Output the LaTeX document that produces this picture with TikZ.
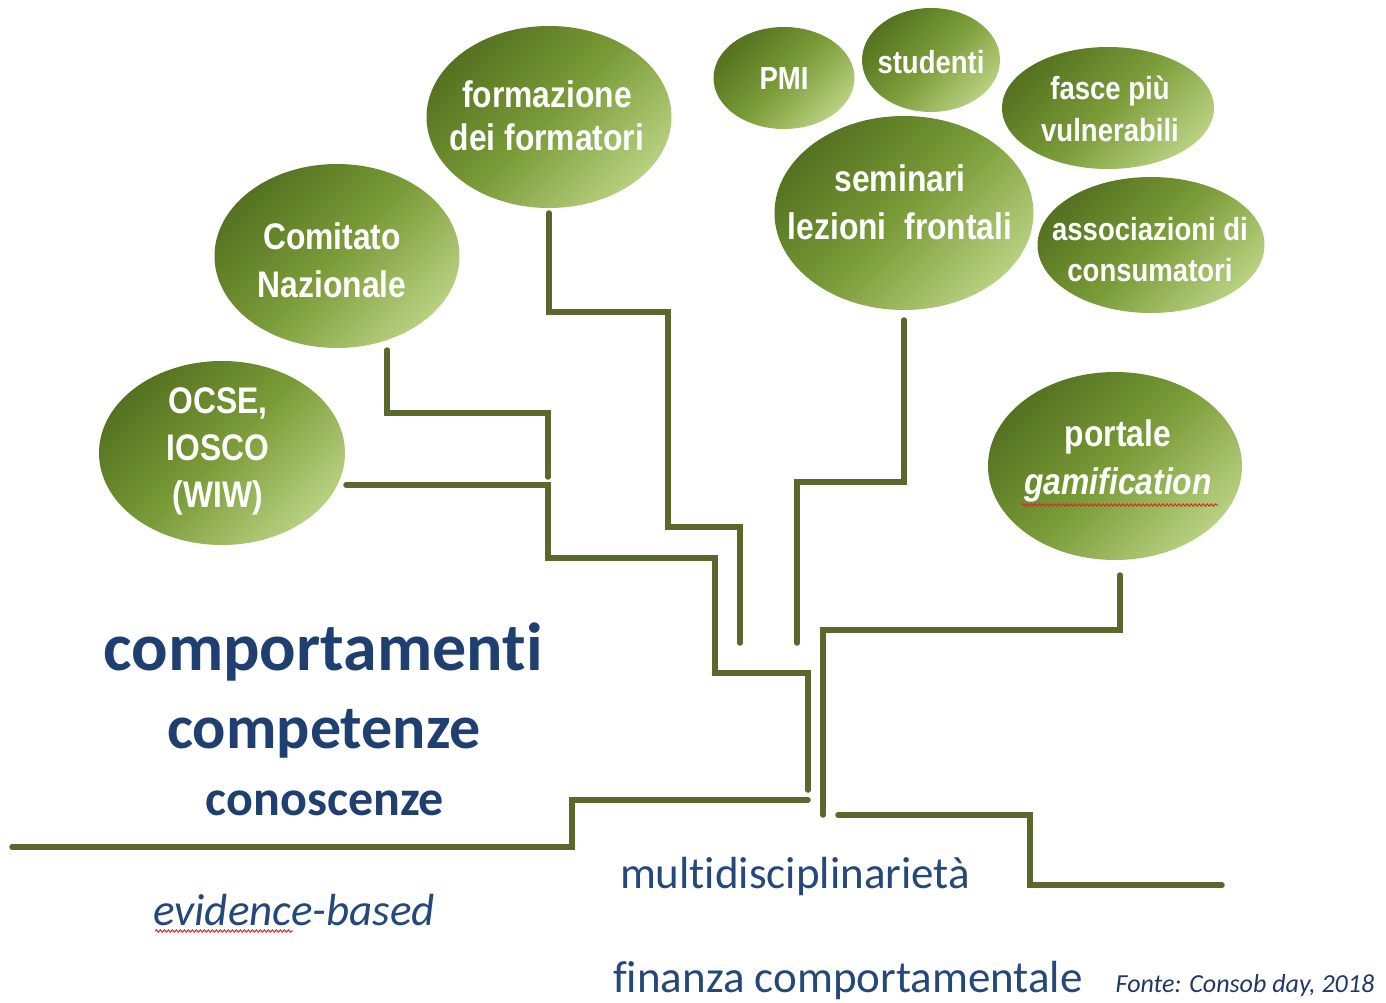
\documentclass[tikz,border=0pt]{standalone}
\usepackage{fontspec}
\setmainfont{Carlito}[Ligatures=NoCommon]
\newfontfamily\bubblefont[FakeStretch=0.86]{Liberation Sans}
\usetikzlibrary{calc,shapes.geometric,decorations.pathmorphing}

\definecolor{gDark}{RGB}{84,114,32}
\definecolor{gMid}{RGB}{122,156,56}
\definecolor{gLight}{RGB}{184,208,128}
\definecolor{stemcol}{RGB}{88,105,43}
\definecolor{navy}{RGB}{31,63,112}
\definecolor{navyB}{RGB}{36,72,124}
\definecolor{navyC}{RGB}{31,56,100}
\definecolor{spell}{RGB}{220,40,40}

\tikzset{
  bubble/.style={ellipse, inner sep=0pt, top color=gDark, bottom color=gLight,
    middle color=gMid, shading angle=45},
  btext/.style={text=white, align=center,
    font=\bubblefont\bfseries\fontsize{37}{#1}\selectfont},
  bsmall/.style={text=white, align=center,
    font=\bubblefont\bfseries\fontsize{32}{#1}\selectfont},
  stem/.style={draw=stemcol, line width=5.5pt, line cap=round, line join=miter},
  bigword/.style={text=navy, anchor=base, inner sep=0pt},
  plainword/.style={text=navyB, anchor=base, inner sep=0pt,
    font=\fontsize{45}{50}\selectfont},
  wavy/.style={draw=spell, line width=1pt,
    decorate, decoration={snake, amplitude=1.2pt, segment length=4pt}}
}

\begin{document}
\begin{tikzpicture}[x=1pt, y=-1pt]
\useasboundingbox (0,0) rectangle (1386,1003);

% ---- bubbles ----
\node[bubble, minimum width=246, minimum height=184] (ocse) at (222,453) {};
\node[btext=47] (ocseT) at (218,451) {OCSE,\\IOSCO\\(WIW)};

\node[bubble, minimum width=245, minimum height=184] (com) at (337,256) {};
\node[btext=48] (comT) at (332,260) {Comitato\\Nazionale};

\node[bubble, minimum width=245, minimum height=182] (form) at (549,117) {};
\node[btext=43] (formT) at (547,116) {formazione\\dei formatori};

\node[bubble, minimum width=141, minimum height=102] (pmi) at (784,78) {};
\node[bsmall=40] (pmiT) at (784,78) {PMI};

\node[bubble, minimum width=138, minimum height=104] (stud) at (931,60) {};
\node[bsmall=40] (studT) at (931,62) {studenti};

\node[bubble, minimum width=212, minimum height=122] (fasce) at (1108,108) {};
\node[bsmall=42] (fasceT) at (1110,109) {fasce più\\vulnerabili};

\node[bubble, minimum width=259, minimum height=194] (sem) at (904,213) {};
\node[btext=48] (semT) at (900,202) {seminari\\lezioni\ \ frontali};

\node[bubble, minimum width=227, minimum height=136] (assoc) at (1151,245) {};
\node[bsmall=41] (assocT) at (1150,250) {associazioni di\\consumatori};

\node[bubble, minimum width=254, minimum height=188] (port) at (1115,466) {};
\node[btext=48] (portT) at (1118,461) {portale\\\textit{gamification}};
\draw[wavy] ($(port.center)+(-93,39)$) -- ($(port.center)+(103,39)$);

% ---- free ends of the branches ----
\coordinate (endO) at (808,790);
\coordinate (endC) at (548,477);
\coordinate (endF) at (740,643);
\coordinate (endS) at (797,643);
\coordinate (endP) at (823,815);

% ---- branches ----
\draw[stem] ($(ocse.center)+(124,32)$) -- (548,485) -- (548,558) -- (715,558)
  -- (715,673) -- (808,673) -- (endO);
\draw[stem] ($(com.center)+(50,94)$) |- (548,413) -- (endC);
\draw[stem] ($(form.center)+(0,96)$) |- (668,312) |- (740,527) -- (endF);
\draw[stem] ($(sem.center)+(0,107)$) |- (797,482) -- (endS);
\draw[stem] ($(port.center)+(5,109)$) |- (823,630) -- (endP);

% ---- ground steps ----
\coordinate (gL0) at (12,847);
\coordinate (gL1) at (808,800);
\coordinate (gR0) at (838,815);
\coordinate (gR1) at (1222,885);
\draw[stem] (gL0) -- (572,847) -- (572,800) -- (gL1);
\draw[stem] (gR0) -- (1030,815) -- (1030,885) -- (gR1);

% ---- words ----
\node[bigword, font=\bfseries\fontsize{68}{70}\selectfont] (w1) at (323,670) {comportamenti};
\node[bigword, font=\bfseries\fontsize{62}{64}\selectfont] (w2) at (324,748) {competenze};
\node[bigword, font=\bfseries\fontsize{50}{52}\selectfont] (w3) at (325,815) {conoscenze};

\node[plainword] (multi) at (795,888) {multidisciplinarietà};
\node[plainword, font=\itshape\fontsize{45}{50}\selectfont] (evid) at (294,925) {evidence-based};
\draw[wavy] ($(evid.base west)+(2,6)$) -- ($(evid.base west)+(140,6)$);
\node[plainword] (fin) at (848,992) {finanza comportamentale};
\node[text=navyC, anchor=base, inner sep=0pt, font=\itshape\fontsize{26}{28}\selectfont]
  (src) at (1245,992) {Fonte: Consob day, 2018};
\end{tikzpicture}
\end{document}
